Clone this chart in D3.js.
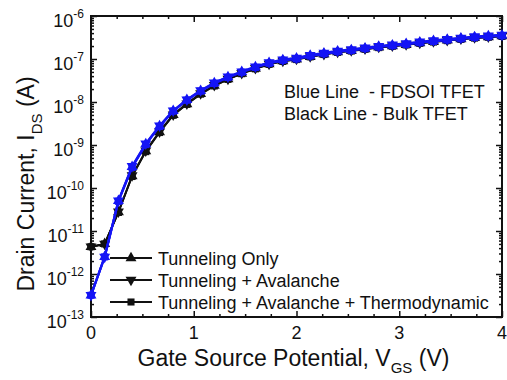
<!DOCTYPE html>
<html>
<head>
<meta charset="utf-8">
<script src="https://cdn.jsdelivr.net/npm/d3@7"></script>
<style>
  body { margin: 0; background: #fff; }
  svg { display: block; }
  text { font-family: Arial, "Liberation Sans", sans-serif; fill: #111; }
</style>
</head>
<body>
<svg id="chart" width="507" height="380"></svg>
<script>
// Gate-source voltage sweep (V)
const vgs = [0, 0.133, 0.267, 0.4, 0.533, 0.667, 0.8, 0.933, 1.067, 1.2, 1.333, 1.467, 1.6, 1.733, 1.867, 2,
             2.133, 2.267, 2.4, 2.533, 2.667, 2.8, 2.933, 3.067, 3.2, 3.333, 3.467, 3.6, 3.733, 3.867, 4];

// Bulk TFET drain current (A)
const bulkTunneling = [4.3e-12, 5.0e-12, 2.75e-11, 1.9e-10, 7.2e-10, 2.0e-9, 5.0e-9, 9.0e-9, 1.55e-8, 2.4e-8, 3.4e-8,
  4.6e-8, 6.0e-8, 7.6e-8, 8.9e-8, 9.8e-8, 1.13e-7, 1.28e-7, 1.44e-7, 1.55e-7, 1.7e-7, 1.86e-7, 2.0e-7, 2.14e-7,
  2.34e-7, 2.51e-7, 2.7e-7, 2.9e-7, 3.1e-7, 3.25e-7, 3.4e-7];
const bulkAvalanche = [4.3e-12, 5.0e-12, 2.8e-11, 1.95e-10, 7.4e-10, 2.05e-9, 5.1e-9, 9.2e-9, 1.58e-8, 2.45e-8, 3.45e-8,
  4.7e-8, 6.1e-8, 7.7e-8, 9.0e-8, 1.0e-7, 1.15e-7, 1.3e-7, 1.46e-7, 1.58e-7, 1.73e-7, 1.9e-7, 2.04e-7, 2.18e-7,
  2.38e-7, 2.56e-7, 2.75e-7, 2.96e-7, 3.16e-7, 3.32e-7, 3.48e-7];
const bulkThermo = [4.3e-12, 5.0e-12, 2.7e-11, 1.85e-10, 7.0e-10, 1.95e-9, 4.9e-9, 8.8e-9, 1.52e-8, 2.36e-8, 3.35e-8,
  4.55e-8, 5.9e-8, 7.5e-8, 8.8e-8, 9.7e-8, 1.12e-7, 1.27e-7, 1.42e-7, 1.53e-7, 1.68e-7, 1.84e-7, 1.98e-7, 2.12e-7,
  2.31e-7, 2.48e-7, 2.67e-7, 2.86e-7, 3.06e-7, 3.2e-7, 3.35e-7];

// FDSOI TFET drain current (A)
const fdsoiTunneling = [3.2e-13, 2.5e-12, 5.0e-11, 3.1e-10, 1.05e-9, 2.75e-9, 6.2e-9, 1.12e-8, 1.82e-8, 2.75e-8, 3.8e-8,
  5.0e-8, 6.5e-8, 8.1e-8, 9.5e-8, 1.03e-7, 1.2e-7, 1.35e-7, 1.51e-7, 1.62e-7, 1.78e-7, 1.95e-7, 2.09e-7, 2.24e-7,
  2.45e-7, 2.63e-7, 2.82e-7, 3.02e-7, 3.24e-7, 3.39e-7, 3.55e-7];
const fdsoiAvalanche = [3.2e-13, 2.5e-12, 5.1e-11, 3.2e-10, 1.08e-9, 2.8e-9, 6.3e-9, 1.14e-8, 1.86e-8, 2.8e-8, 3.88e-8,
  5.1e-8, 6.65e-8, 8.3e-8, 9.7e-8, 1.06e-7, 1.23e-7, 1.39e-7, 1.55e-7, 1.67e-7, 1.83e-7, 2.0e-7, 2.15e-7, 2.3e-7,
  2.52e-7, 2.7e-7, 2.9e-7, 3.1e-7, 3.33e-7, 3.48e-7, 3.65e-7];
const fdsoiThermo = [3.2e-13, 2.5e-12, 4.9e-11, 3.0e-10, 1.02e-9, 2.7e-9, 6.1e-9, 1.1e-8, 1.78e-8, 2.7e-8, 3.72e-8,
  4.9e-8, 6.35e-8, 7.9e-8, 9.3e-8, 1.0e-7, 1.17e-7, 1.32e-7, 1.47e-7, 1.58e-7, 1.74e-7, 1.9e-7, 2.04e-7, 2.18e-7,
  2.39e-7, 2.56e-7, 2.75e-7, 2.94e-7, 3.15e-7, 3.3e-7, 3.46e-7];

// Axis ticks and text
const xTicks = [0, 1, 2, 3, 4];
const yTickExponents = [-13, -12, -11, -10, -9, -8, -7, -6];
const legendLabels = ["Tunneling Only", "Tunneling + Avalanche", "Tunneling + Avalanche + Thermodynamic"];
const noteLines = ["Blue Line  - FDSOI TFET", "Black Line - Bulk TFET"];

const svg = d3.select("#chart");
const plot = { left: 91, right: 502, top: 16, bottom: 317 };

const x = d3.scaleLinear().domain([0, 4]).range([plot.left, plot.right]);
const y = d3.scaleLog().domain([1e-13, 1e-6]).range([plot.bottom, plot.top]);

// Minor tick positions
const xMinor = d3.range(0, 4.001, 0.25).filter(v => Math.abs(v - Math.round(v)) > 1e-6);
const yMinor = [];
yTickExponents.slice(0, -1).forEach(e => {
  for (let m = 2; m <= 9; m++) yMinor.push(m * Math.pow(10, e));
});

function styleAxis(g) {
  g.select(".domain").remove();
  g.selectAll("line").attr("stroke", "#111").attr("stroke-width", 1.5);
  g.selectAll("text").remove();
}

// Bottom and top axes (inward ticks)
svg.append("g").attr("transform", `translate(0,${plot.bottom})`)
  .call(d3.axisBottom(x).tickValues(xTicks).tickSize(-6)).call(styleAxis);
svg.append("g").attr("transform", `translate(0,${plot.bottom})`)
  .call(d3.axisBottom(x).tickValues(xMinor).tickSize(-3)).call(styleAxis);
svg.append("g").attr("transform", `translate(0,${plot.top})`)
  .call(d3.axisTop(x).tickValues(xTicks).tickSize(-6)).call(styleAxis);
svg.append("g").attr("transform", `translate(0,${plot.top})`)
  .call(d3.axisTop(x).tickValues(xMinor).tickSize(-3)).call(styleAxis);

// Left and right axes (inward ticks)
const yMajor = yTickExponents.map(e => Math.pow(10, e));
svg.append("g").attr("transform", `translate(${plot.left},0)`)
  .call(d3.axisLeft(y).tickValues(yMajor).tickSize(-6)).call(styleAxis);
svg.append("g").attr("transform", `translate(${plot.left},0)`)
  .call(d3.axisLeft(y).tickValues(yMinor).tickSize(-3)).call(styleAxis);
svg.append("g").attr("transform", `translate(${plot.right},0)`)
  .call(d3.axisRight(y).tickValues(yMajor).tickSize(-6)).call(styleAxis);
svg.append("g").attr("transform", `translate(${plot.right},0)`)
  .call(d3.axisRight(y).tickValues(yMinor).tickSize(-3)).call(styleAxis);

// Frame
svg.append("rect")
  .attr("x", plot.left).attr("y", plot.top)
  .attr("width", plot.right - plot.left).attr("height", plot.bottom - plot.top)
  .attr("fill", "none").attr("stroke", "#111").attr("stroke-width", 2);

// X tick labels
svg.append("g").selectAll("text").data(xTicks).join("text")
  .attr("x", d => x(d)).attr("y", plot.bottom + 22)
  .attr("text-anchor", "middle").attr("font-size", 18)
  .text(d => d);

// Y tick labels: 10 with superscript exponent
const yLab = svg.append("g").selectAll("text").data(yTickExponents).join("text")
  .attr("x", plot.left - 7).attr("y", d => y(Math.pow(10, d)) + 11)
  .attr("text-anchor", "end").attr("font-size", 18);
yLab.append("tspan").text("10");
yLab.append("tspan").attr("dy", -9).attr("font-size", 12).text(d => d);

// Axis titles
const xt = svg.append("text").attr("x", (plot.left + plot.right) / 2 - 3).attr("y", 366)
  .attr("text-anchor", "middle").attr("font-size", 23);
xt.append("tspan").text("Gate Source Potential, V");
xt.append("tspan").attr("dy", 7).attr("font-size", 15).text("GS");
xt.append("tspan").attr("dy", -7).text(" (V)");

const yt = svg.append("text").attr("transform", "translate(34,184) rotate(-90)")
  .attr("text-anchor", "middle").attr("font-size", 23);
yt.append("tspan").text("Drain Current, I");
yt.append("tspan").attr("dy", 8).attr("font-size", 15).text("DS");
yt.append("tspan").attr("dy", -8).text(" (A)");

// Series markers: up triangle, down triangle, square
const markers = [
  d3.symbol().type(d3.symbolTriangle).size(52),
  d3.symbol().type(d3.symbolTriangle).size(52),
  d3.symbol().type(d3.symbolSquare).size(50)
];
const rotations = [0, 180, 0];

const line = d3.line().x((d, i) => x(vgs[i])).y(d => y(d));

function drawDevice(seriesList, color, width) {
  const g = svg.append("g");
  seriesList.forEach(vals => {
    g.append("path").datum(vals).attr("d", line)
      .attr("fill", "none").attr("stroke", color).attr("stroke-width", width);
  });
  seriesList.forEach((vals, k) => {
    g.append("g").selectAll("path").data(vals).join("path")
      .attr("d", markers[k])
      .attr("transform", (d, i) => `translate(${x(vgs[i])},${y(d)}) rotate(${rotations[k]})`)
      .attr("fill", color);
  });
}

drawDevice([bulkTunneling, bulkAvalanche, bulkThermo], "#111", 1.8);
drawDevice([fdsoiTunneling, fdsoiAvalanche, fdsoiThermo], "#1414f5", 2.2);

// Device note
svg.append("g").selectAll("text").data(noteLines).join("text")
  .attr("x", 284).attr("y", (d, i) => 98 + i * 22)
  .attr("font-size", 18).attr("xml:space", "preserve")
  .text(d => d);

// Legend
const legendRowY = [258, 280, 302];
const lg = svg.append("g");
legendLabels.forEach((label, k) => {
  const cy = legendRowY[k];
  lg.append("line").attr("x1", 110).attr("x2", 152).attr("y1", cy).attr("y2", cy)
    .attr("stroke", "#111").attr("stroke-width", 1.8);
  lg.append("path").attr("d", markers[k])
    .attr("transform", `translate(131,${cy}) rotate(${rotations[k]})`).attr("fill", "#111");
  lg.append("text").attr("x", 158).attr("y", cy + 6.5).attr("font-size", 18).text(label);
});
</script>
</body>
</html>
